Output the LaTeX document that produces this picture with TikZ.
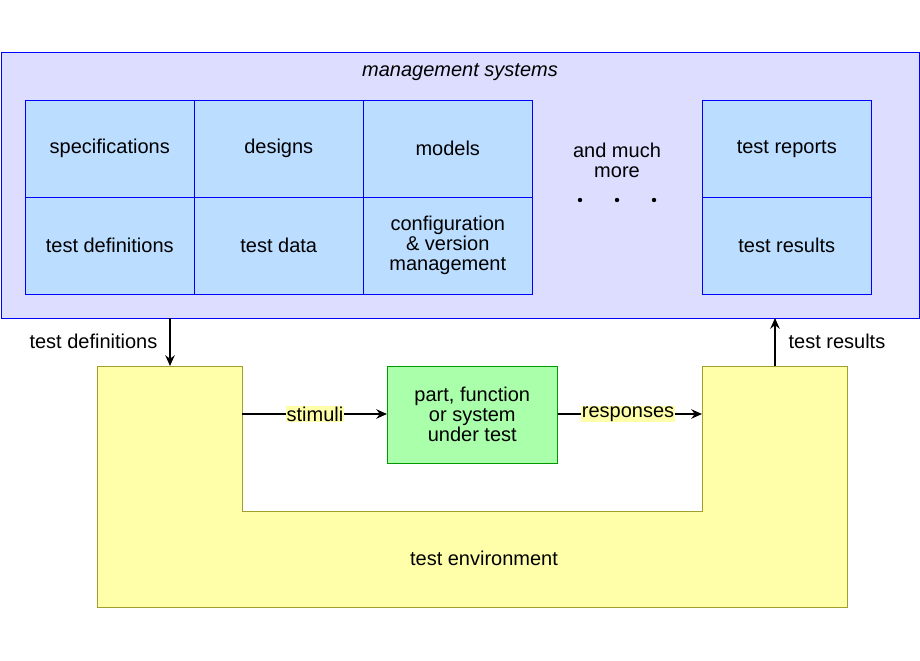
\documentclass[tikz,border=0pt]{standalone}
\usepackage{fontspec}
\setmainfont{Liberation Sans}
\usetikzlibrary{arrows.meta, positioning}
\definecolor{mgmt}{RGB}{221,221,255}
\definecolor{cell}{RGB}{187,221,255}
\definecolor{envy}{RGB}{255,255,170}
\definecolor{sut}{RGB}{170,255,170}
\definecolor{envline}{RGB}{160,160,40}
\tikzset{
  cellbox/.style={draw=blue, fill=cell, minimum width=169*0.75pt, minimum height=97*0.75pt, inner sep=0pt, align=center, anchor=north west},
  lbl/.style={inner sep=1pt, align=center, font=\fontsize{15}{17}\selectfont},
  flow/.style={-{Stealth[length=8pt,width=7pt]}, line width=1.6pt}
}
\begin{document}
\begin{tikzpicture}[x=0.75pt,y=0.75pt,yscale=-1,xscale=1,font=\fontsize{15}{17}\selectfont]
\useasboundingbox (0,0) rectangle (920,660);

% management systems
\draw[blue, fill=mgmt] (1,52) rectangle (919,318);
\node[lbl] (mtitle) at (460,72) {\itshape management systems};

% cells
\node[cellbox] (spec) at (25,100) {specifications};
\node[cellbox] (des) at (194,100) {designs};
\node[cellbox] (mod) at (363,100) {models};
\node[cellbox] (tdef) at (25,197) {test definitions};
\node[cellbox] (tdat) at (194,197) {test data};
\node[cellbox] (conf) at (363,197) {configuration\\[-2pt]\& version\\[-2pt]management};
\node[cellbox] (trep) at (702,100) {test reports};
\node[cellbox] (tres) at (702,197) {test results};
\node[lbl] (more) at (617,160) {and much\\[-2pt]more};
\foreach \x in {580,617,654} \fill (\x,200) circle (2.2);

% test environment
\draw[envline, fill=envy] (97,366) -- (242,366) -- (242,511) -- (702,511) -- (702,366)
  -- (847,366) -- (847,607) -- (97,607) -- cycle;
\node[lbl] (env) at (484,558) {test environment};
\coordinate (envin) at (170,366);
\coordinate (envout) at (775,366);
\coordinate (mgin) at (170,318);
\coordinate (mgout) at (775,318);
\coordinate (stimA) at (242,414);
\coordinate (respB) at (702,414);

% unit under test
\node[draw=green!60!black, fill=sut, minimum width=170*0.75pt, minimum height=97*0.75pt, inner sep=0pt, align=center, anchor=north west] (uut) at (387,366) {part, function\\[-2pt]or system\\[-2pt]under test};

% flows
\draw[flow] (mgin) -- (envin);
\node[lbl, anchor=east] (ltdef) at (159,341) {test definitions};
\draw[flow] (envout) -- (mgout);
\node[lbl, anchor=west] (ltres) at (787,341) {test results};
\draw[flow] (stimA) -- (uut.west |- stimA);
\node[lbl, fill=envy, inner sep=0.5pt] (lstim) at (315,414) {stimuli};
\draw[flow] (uut.east |- respB) -- (respB);
\node[lbl, fill=envy, inner sep=0.5pt] (lresp) at (628,414) {responses};
\end{tikzpicture}
\end{document}
